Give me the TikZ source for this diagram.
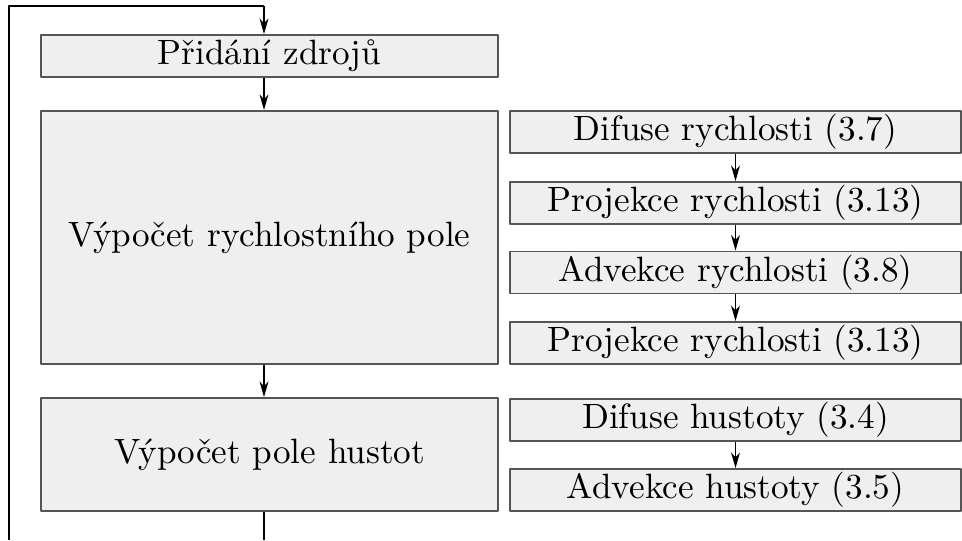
\documentclass[tikz,border=0pt]{standalone}
\usepackage{tikz}
\usetikzlibrary{arrows.meta}
\definecolor{boxfill}{RGB}{239,239,239}
\definecolor{boxline}{RGB}{85,85,85}
\tikzset{stage/.style={draw=boxline,fill=boxfill,line width=0.5pt,inner sep=0pt,
  minimum width=4.57cm,minimum height=0.42cm},
 substage/.style={stage,minimum width=4.51cm},
 flow/.style={draw=black,line width=0.5pt,-{Stealth[length=4.4pt,width=2.5pt,inset=1.3pt]}},
 every picture/.style={line join=round}}

\begin{document}
\begin{tikzpicture}[x=0.01cm,y=-0.01cm]
\useasboundingbox (0,0) rectangle (962,540);
\coordinate (top) at (264,6);
\coordinate (topleft) at (9,6);
\coordinate (botleft) at (9,540);
\coordinate (bot) at (264,540);
% left column
\node[stage] (zdroje) at (269.5,56) {Přidání zdrojů};
\node[stage,minimum height=2.53cm] (rychlost) at (269.5,237.5) {Výpočet rychlostního pole};
\node[stage,minimum height=1.13cm] (hustota) at (269.5,454.5) {Výpočet pole hustot};
% right column
\node[substage] (difR) at (735.5,132) {Difuse rychlosti (3.7)};
\node[substage] (proj1) at (735.5,203) {Projekce rychlosti (3.13)};
\node[substage] (advR) at (735.5,272.5) {Advekce rychlosti (3.8)};
\node[substage] (proj2) at (735.5,343) {Projekce rychlosti (3.13)};
\node[substage] (difH) at (735.5,420) {Difuse hustoty (3.4)};
\node[substage] (advH) at (735.5,490) {Advekce hustoty (3.5)};
% connectors
\draw[line width=0.5pt] (botleft) -- (topleft) -- (top);
\draw[flow] (top) -- (zdroje.north -| top);
\draw[flow] (zdroje.south -| top) -- (rychlost.north -| top);
\draw[flow] (rychlost.south -| top) -- (hustota.north -| top);
\draw[line width=0.5pt] (hustota.south -| bot) -- (bot);
\draw[flow] (difR) -- (proj1);
\draw[flow] (proj1) -- (advR);
\draw[flow] (advR) -- (proj2);
\draw[flow] (difH) -- (advH);
\end{tikzpicture}
\end{document}
